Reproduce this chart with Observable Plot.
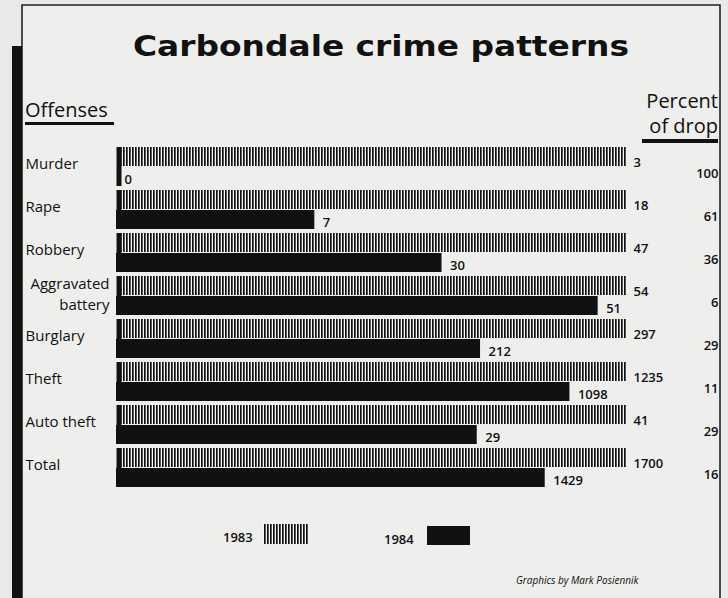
<!DOCTYPE html>
<html>
<head>
<meta charset="utf-8">
<script src="https://cdn.jsdelivr.net/npm/d3@7"></script>
<script src="https://cdn.jsdelivr.net/npm/@observablehq/plot@0.6"></script>
<style>
  html, body { margin: 0; padding: 0; background: #e9e9e7; }
  #wrap { position: relative; width: 728px; height: 598px; overflow: hidden; background: #e9e9e7; }
  #wrap > svg { position: absolute; left: 0; top: 0; }
</style>
</head>
<body>
<div id="wrap"></div>
<script>
// ---- data ----
const categories = ["Murder", "Rape", "Robbery", "Aggravated battery", "Burglary", "Theft", "Auto theft", "Total"];
const offenses1983 = [3, 18, 47, 54, 297, 1235, 41, 1700];
const offenses1984 = [0, 7, 30, 51, 212, 1098, 29, 1429];
const percentDrop = [100, 61, 36, 6, 29, 11, 29, 16];
const legendYears = ["1983", "1984"];

const rows = categories.map((c, i) => ({
  category: c,
  v83: offenses1983[i],
  v84: offenses1984[i],
  drop: percentDrop[i],
  share83: 1,
  share84: offenses1984[i] / offenses1983[i]
}));

const INK = "#111";
const FONT = "'Open Sans', Lato, sans-serif";

const plot = Plot.plot({
  width: 728,
  height: 598,
  marginTop: 144,
  marginBottom: 107,
  marginLeft: 116,
  marginRight: 102,
  style: { background: "transparent", overflow: "visible", fontFamily: FONT, color: INK },
  x: { axis: null, domain: [0, 1] },
  y: { axis: null, domain: categories, paddingInner: 0.088, paddingOuter: 0 },
  marks: [
    // 1983 bars (hatched), top half of each band
    Plot.barX(rows, { y: "category", x1: 0, x2: "share83", fill: "#f6f6f4", insetBottom: 20 }),
    Plot.barX(rows, { y: "category", x1: 0, x2: "share83", fill: "url(#hatch83)", insetBottom: 20 }),
    // 1984 bars (solid), bottom half
    Plot.barX(rows, { y: "category", x1: 0, x2: "share84", fill: INK, insetTop: 20 }),
    // solid leading edge of every bar pair
    Plot.tickX(rows, { x: 0, y: "category", stroke: INK, strokeWidth: 5, dx: 2.5 }),
    // value labels
    Plot.text(rows, { x: "share83", y: "category", text: d => String(d.v83), dx: 7, dy: -4, textAnchor: "start", fontSize: 13, fontWeight: 600, fill: INK }),
    Plot.text(rows, { x: "share84", y: "category", text: d => String(d.v84), dx: 8, dy: 13, textAnchor: "start", fontSize: 13, fontWeight: 600, fill: INK }),
    // percent of drop column
    Plot.text(rows, { y: "category", frameAnchor: "right", text: d => String(d.drop), dx: 92, dy: 7, textAnchor: "end", fontSize: 13, fontWeight: 600, fill: INK }),
    // offense labels
    Plot.text(rows.filter(d => d.category !== "Aggravated battery"), { y: "category", frameAnchor: "left", text: "category", dx: -91, dy: -3, textAnchor: "start", fontSize: 15, fontWeight: 500, fill: INK }),
    Plot.text(rows.filter(d => d.category === "Aggravated battery"), { y: "category", frameAnchor: "left", text: d => d.category.replace(" ", "\n"), dx: -7, dy: -3, lineHeight: 1.35, textAnchor: "end", fontSize: 15, fontWeight: 500, fill: INK })
  ]
});

const ns = "http://www.w3.org/2000/svg";
const defs = document.createElementNS(ns, "defs");
defs.innerHTML = `
  <pattern id="hatch83" patternUnits="userSpaceOnUse" width="3" height="10">
    <rect x="0" y="0" width="1.7" height="10" fill="${INK}"></rect>
  </pattern>`;
plot.insertBefore(defs, plot.firstChild);

const wrap = document.getElementById("wrap");
wrap.appendChild(plot);

// ---- decoration: frame, headings, legend, credit ----
const deco = document.createElementNS(ns, "svg");
deco.setAttribute("width", 728);
deco.setAttribute("height", 598);
deco.style.pointerEvents = "none";
deco.innerHTML = `
  <defs>
    <pattern id="hatchLegend" patternUnits="userSpaceOnUse" width="3" height="10">
      <rect x="0" y="0" width="1.7" height="10" fill="${INK}"></rect>
    </pattern>
  </defs>
  <rect x="22" y="5" width="698" height="592" fill="#eeeeec"></rect>
  <path d="M22,598 V5 H720 V598" fill="none" stroke="#222" stroke-width="1.6"></path>
  <rect x="12" y="46" width="10" height="552" fill="${INK}"></rect>
  <text x="133" y="56" font-family="'DejaVu Sans', sans-serif" font-weight="bold" font-size="28" textLength="496" lengthAdjust="spacingAndGlyphs" fill="${INK}">Carbondale crime patterns</text>
  <text x="25" y="117" font-family="${FONT}" font-size="20" font-weight="500" fill="${INK}">Offenses</text>
  <rect x="25" y="122" width="89" height="3" fill="${INK}"></rect>
  <text x="718" y="108" text-anchor="end" font-family="${FONT}" font-size="20" font-weight="500" fill="${INK}">Percent</text>
  <text x="718" y="133" text-anchor="end" font-family="${FONT}" font-size="20" font-weight="500" fill="${INK}">of drop</text>
  <rect x="642" y="139" width="76" height="4" fill="${INK}"></rect>
  <text x="223" y="542" font-family="${FONT}" font-size="13" font-weight="600" fill="${INK}">${legendYears[0]}</text>
  <rect x="263" y="524" width="45" height="20" fill="#f6f6f4"></rect>
  <rect x="263" y="524" width="45" height="20" fill="url(#hatchLegend)"></rect>
  <text x="384" y="544" font-family="${FONT}" font-size="13" font-weight="600" fill="${INK}">${legendYears[1]}</text>
  <rect x="427" y="526" width="43" height="19" fill="${INK}"></rect>
  <text x="516" y="584" font-family="${FONT}" font-size="10" font-style="italic" font-weight="500" fill="${INK}">Graphics by Mark Posiennik</text>
`;
wrap.insertBefore(deco, plot);
</script>
</body>
</html>
